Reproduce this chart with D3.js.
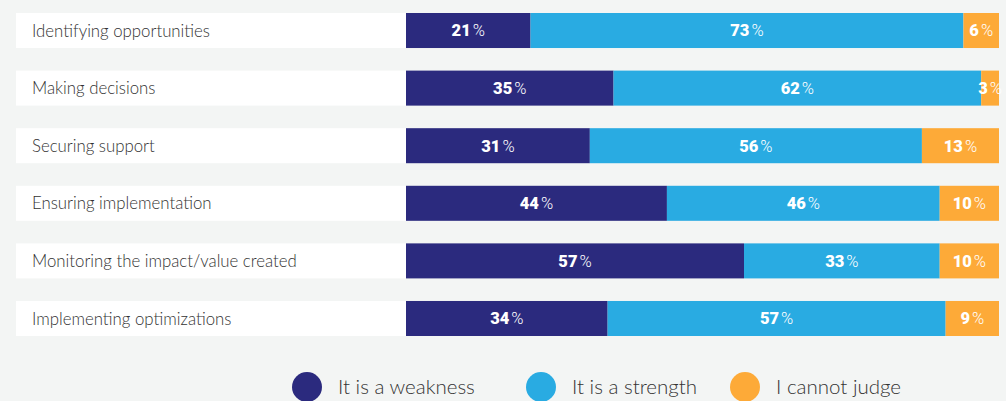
<!DOCTYPE html>
<html>
<head>
<meta charset="utf-8">
<script src="https://cdn.jsdelivr.net/npm/d3@7"></script>
<style>
  html, body { margin: 0; padding: 0; background: #f3f5f4; }
  svg { display: block; }
</style>
</head>
<body>
<svg width="1006" height="401"></svg>
<script>
const categories = [
    'Identifying opportunities',
    'Making decisions',
    'Securing support',
    'Ensuring implementation',
    'Monitoring the impact/value created',
    'Implementing optimizations'
];
const weakness = [21, 35, 31, 44, 57, 34];
const strength = [73, 62, 56, 46, 33, 57];
const cannotJudge = [6, 3, 13, 10, 10, 9];

const seriesNames = ['It is a weakness', 'It is a strength', 'I cannot judge'];
const seriesColours = ['#2b2a7e', '#29abe2', '#fdaa38'];

const svg = d3.select('svg');

const rows = categories.map((c, i) => ({
    category: c,
    values: [weakness[i], strength[i], cannotJudge[i]]
}));

const Y_SCALE =
    d3.scaleBand()
        .domain(categories)
        .range([13, 336])
        .paddingInner(0.392);

const X_SCALE =
    d3.scaleLinear()
        .domain([0, 100])
        .range([406, 999]);

// white label boxes
svg.selectAll('rect.labelbox')
    .data(rows)
    .join('rect')
    .attr('class', 'labelbox')
    .attr('x', 16)
    .attr('y', d => Y_SCALE(d.category))
    .attr('width', X_SCALE(0) - 16)
    .attr('height', Y_SCALE.bandwidth())
    .attr('fill', '#ffffff');

svg.selectAll('text.cat')
    .data(rows)
    .join('text')
    .attr('class', 'cat')
    .text(d => d.category)
    .attr('x', 32)
    .attr('y', d => Y_SCALE(d.category) + Y_SCALE.bandwidth() / 2)
    .attr('dy', '0.36em')
    .style('fill', '#333333')
    .style('font-family', 'Lato, sans-serif')
    .style('font-weight', '300')
    .style('font-size', '16.8px');

// stacked segments
const segments = [];
rows.forEach(r => {
    let start = 0;
    r.values.forEach((v, k) => {
        segments.push({ category: r.category, k, v, x0: start, x1: start + v });
        start += v;
    });
});

svg.selectAll('rect.seg')
    .data(segments)
    .join('rect')
    .attr('class', 'seg')
    .attr('x', d => X_SCALE(d.x0))
    .attr('y', d => Y_SCALE(d.category))
    .attr('width', d => X_SCALE(d.x1) - X_SCALE(d.x0))
    .attr('height', Y_SCALE.bandwidth())
    .attr('fill', d => seriesColours[d.k]);

const valueText = svg.selectAll('text.val')
    .data(segments)
    .join('text')
    .attr('class', 'val')
    .attr('x', d => (X_SCALE(d.x0) + X_SCALE(d.x1)) / 2)
    .attr('y', d => Y_SCALE(d.category) + Y_SCALE.bandwidth() / 2)
    .attr('dy', '0.36em')
    .style('text-anchor', 'middle')
    .style('fill', '#ffffff')
    .style('font-family', 'Roboto, sans-serif')
    .style('font-size', '16.5px');

valueText.append('tspan')
    .text(d => d.v)
    .style('font-weight', '900');

valueText.append('tspan')
    .text('%')
    .attr('dx', 2)
    .style('font-weight', '300');

// legend
const legendX = [307, 541, 745];
const legend = svg.selectAll('g.legend')
    .data(seriesNames)
    .join('g')
    .attr('class', 'legend')
    .attr('transform', (d, i) => `translate(${legendX[i]}, 387)`);

legend.append('circle')
    .attr('r', 15)
    .attr('fill', (d, i) => seriesColours[i]);

legend.append('text')
    .text(d => d)
    .attr('x', 31)
    .attr('dy', '0.36em')
    .style('fill', '#333333')
    .style('font-family', 'Lato, sans-serif')
    .style('font-weight', '300')
    .style('font-size', '20.5px');
</script>
</body>
</html>
